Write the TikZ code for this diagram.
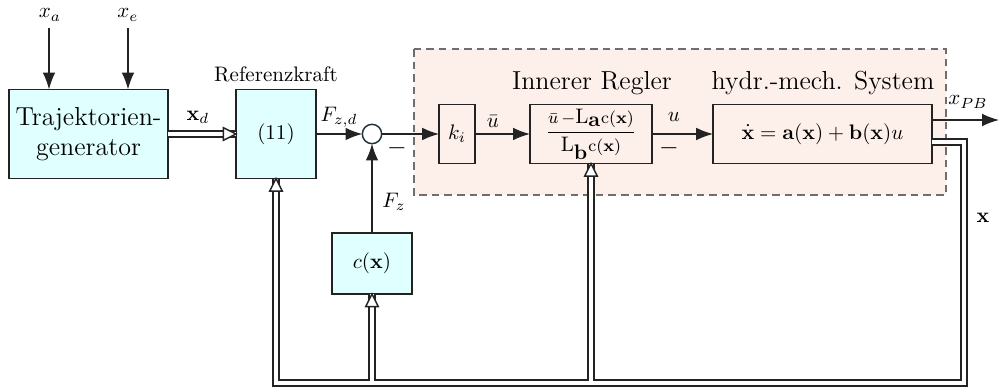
\documentclass[tikz,border=0pt]{standalone}
\usepackage{amsmath}
\usetikzlibrary{arrows.meta}
\definecolor{boxcyan}{RGB}{224,255,255}
\definecolor{regpink}{RGB}{253,240,235}
\definecolor{lincol}{RGB}{35,35,35}
\definecolor{sumcol}{RGB}{30,50,60}
\definecolor{dashcol}{RGB}{110,110,110}
\newcommand{\smallpart}[1]{\mbox{\footnotesize$#1$}}
\tikzset{
  base/.style={draw=lincol, line width=0.65pt, inner sep=0pt, outer sep=0pt, align=center},
  cyanbox/.style={base, fill=boxcyan},
  plainbox/.style={base},
  sumpt/.style={circle, draw=sumcol, fill=white, line width=0.7pt, minimum size=9.2pt, inner sep=0pt, outer sep=0pt},
  sig/.style={draw=lincol, line width=0.65pt, -{Latex[length=8pt,width=6pt]}},
  vec/.style={draw=lincol, line width=0.75pt, double=white, double distance=1.9pt},
  vtip/.style={draw=lincol, fill=white, line width=0.7pt, line join=miter},
  lab/.style={inner sep=0pt, outer sep=0pt},
  big/.style={font=\fontsize{12.4}{14.5}\selectfont},
}
\begin{document}
\begin{tikzpicture}[x=0.476pt, y=-0.476pt]
\useasboundingbox (0,0) rectangle (999,387);
% dashed region
\draw[draw=dashcol, fill=regpink, line width=0.6pt, dash pattern=on 3.6pt off 2.4pt] (414,49) rectangle (946,195);

% blocks
\node[cyanbox, big, minimum width=75.7pt, minimum height=42.4pt] (tg) at (88.5,134) {Trajektorien-\\generator};
\node[cyanbox, minimum width=38.1pt, minimum height=42.4pt] (ref) at (276,134) {(11)};
\node[sumpt] (sum) at (372,134) {};
\node[plainbox, minimum width=17.1pt, minimum height=28.1pt] (ki) at (457,134) {$k_i$};
\node[plainbox, minimum width=58.1pt, minimum height=28.1pt] (frac) at (591,134)
  {$\dfrac{\smallpart{\bar{u}\,-}\mathrm{L}_{\textstyle\mathbf{a}}\smallpart{\mathrm{c}(\mathbf{x})}}{\mathrm{L}_{\textstyle\mathbf{b}}\smallpart{\mathrm{c}(\mathbf{x})}}$};
\node[plainbox, minimum width=104.2pt, minimum height=28.1pt] (sys) at (822.5,134)
  {$\dot{\mathbf{x}} = \mathbf{a}(\mathbf{x}) + \mathbf{b}(\mathbf{x})u$};
\node[cyanbox, minimum width=38.1pt, minimum height=29pt] (cx) at (372,263.5) {$c(\mathbf{x})$};

% texts
\node[lab] (lxa) at (50,15) {$x_a$};
\node[lab] (lxe) at (128,15) {$x_e$};
\node[lab] (lref) at (276,74) {Referenzkraft};
\node[lab] (lxd) at (198,117) {$\mathbf{x}_d$};
\node[lab] (lfzd) at (339,117) {$F_{z,d}$};
\node[lab] (lfz) at (394,202) {$F_z$};
\node[lab, font=\large] (m1) at (397,148) {$-$};
\node[lab] (lub) at (493,122) {$\bar{u}$};
\node[lab] (lu) at (674,117) {$u$};
\node[lab, font=\large] (m2) at (669,148) {$-$};
\node[lab] (lxpb) at (968,102) {$x_{PB}$};
\node[lab] (lx) at (983,218) {$\mathbf{x}$};
\node[lab, big] (linner) at (592,83) {Innerer Regler};
\node[lab, big] (lsys) at (823,83) {hydr.-mech. System};

% coordinates
\coordinate (xa) at (49,28);
\coordinate (xe) at (128,28);
\coordinate (xpb) at (999,120);
\coordinate (fbr) at (964,142);
\coordinate (fbb) at (964,383);
\coordinate (jtop) at (0,381);

% signal arrows
\draw[sig] (xa) -- (xa |- tg.north);
\draw[sig] (xe) -- (xe |- tg.north);
\draw[sig] (ref.east) -- (sum.west);
\draw[sig] (sum.east) -- (ki.west);
\draw[sig] (ki.east) -- (frac.west);
\draw[sig] (frac.east) -- (sys.west);
\draw[sig] (sys.east |- xpb) -- (xpb);
\draw[sig] (cx.north) -- (sum.south);

% vector connections (double lines)
\draw[vec] (tg.east) -- (ref.west);
\draw[vec] (sys.east |- fbr) -- (fbr) -- (fbb) -| (ref.south);
\draw[vec] (cx.south |- jtop) -- (cx.south);
\draw[vec] (frac.south |- jtop) -- (frac.south);

% open arrow tips of the double lines
\draw[vtip] (ref.west) -- ++(-6pt,3pt) -- ++(0,-6pt) -- cycle;
\draw[vtip] (ref.south) -- ++(-3pt,-6pt) -- ++(6pt,0) -- cycle;
\draw[vtip] (cx.south) -- ++(-3pt,-6pt) -- ++(6pt,0) -- cycle;
\draw[vtip] (frac.south) -- ++(-3pt,-6pt) -- ++(6pt,0) -- cycle;
\end{tikzpicture}
\end{document}
